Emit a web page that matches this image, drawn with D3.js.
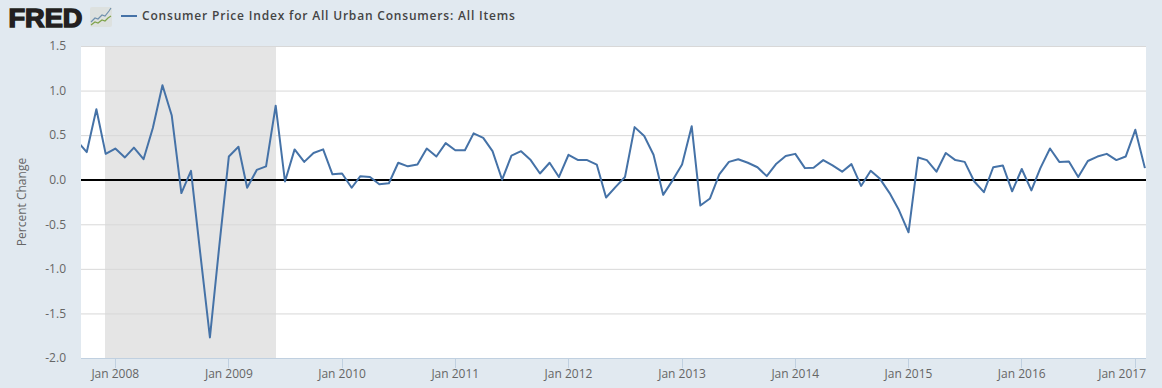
<!DOCTYPE html>
<html><head><meta charset="utf-8">
<script src="https://d3js.org/d3.v7.min.js"></script>
<style>html,body{margin:0;padding:0;background:#e1e9f0;overflow:hidden}svg{display:block}</style>
</head><body><svg id="c" width="1162" height="388"></svg>
<script>
const startMonth = "2007-09-01";
const seriesValues = [0.43,0.31,0.79,0.29,
 0.35,0.25,0.36,0.23,0.58,1.06,0.72,-0.15,0.10,-0.83,-1.77,-0.75,
 0.26,0.37,-0.09,0.11,0.15,0.83,-0.02,0.34,0.20,0.30,0.34,0.06,
 0.07,-0.09,0.04,0.03,-0.05,-0.04,0.19,0.15,0.17,0.35,0.26,0.41,
 0.33,0.33,0.52,0.47,0.32,0.00,0.27,0.32,0.22,0.07,0.19,0.03,
 0.28,0.22,0.22,0.17,-0.20,-0.08,0.03,0.59,0.49,0.28,-0.17,-0.01,
 0.17,0.60,-0.29,-0.21,0.06,0.20,0.23,0.19,0.14,0.04,0.18,0.265,
 0.29,0.13,0.135,0.22,0.16,0.09,0.175,-0.07,0.10,0.01,-0.15,-0.34,
 -0.59,0.25,0.22,0.09,0.30,0.22,0.20,-0.02,-0.14,0.14,0.16,-0.13,
 0.12,-0.12,0.13,0.35,0.20,0.205,0.03,0.21,0.26,0.29,0.22,0.26,
 0.56,0.13];
const yTicks = [-2,-1.5,-1,-0.5,0,0.5,1,1.5];
const xTickYears = [2008,2009,2010,2011,2012,2013,2014,2015,2016,2017];
const recession = ["2007-12-01","2009-06-01"];
const seriesName = "Consumer Price Index for All Urban Consumers: All Items";
const yTitle = "Percent Change";
const logoText = "FRED";

const L=81,R=1146,T=46,B=358;
const svg=d3.select("#c");
const FONT="'Open Sans',sans-serif";
const base=d3.scaleUtc().domain([new Date(Date.UTC(2008,0,1)),new Date(Date.UTC(2017,0,1))]).range([115.3,1135.3]);
const x=d3.scaleUtc().domain([base.invert(L),base.invert(R)]).range([L,R]);
const y=d3.scaleLinear().domain([-2,1.5]).range([B,T]);
const start=new Date(startMonth+"T00:00:00Z");
const data=seriesValues.map((v,i)=>({d:d3.utcMonth.offset(start,i),v}));

svg.append("rect").attr("width",1162).attr("height",388).attr("fill","#e1e9f0");
svg.append("rect").attr("x",L).attr("y",T).attr("width",R-L).attr("height",B-T).attr("fill","#fff");
svg.append("defs").append("clipPath").attr("id","clip").append("rect").attr("x",L).attr("y",T-5).attr("width",R-L).attr("height",B-T+10);

// recession band
const rx0=Math.floor(x(new Date(recession[0]+"T00:00:00Z"))), rx1=Math.ceil(x(new Date(recession[1]+"T00:00:00Z")));
svg.append("rect").attr("x",rx0).attr("y",T).attr("width",rx1-rx0).attr("height",B-T).attr("fill","#e5e5e5");

// y grid + labels
const gy=svg.append("g").attr("transform",`translate(${L},0)`)
  .call(d3.axisLeft(y).tickValues(yTicks).tickSize(-(R-L)).tickPadding(15).tickFormat(d3.format(".1f")));
gy.select(".domain").remove();
gy.selectAll(".tick line").attr("stroke","#d8d8d8").attr("stroke-width",1);
gy.selectAll(".tick text").attr("fill","#666").style("font-family",FONT).style("font-size","12px").text(d=>d3.format(".1f")(d).replace("−","-"));
gy.selectAll(".tick").filter(d=>d===-2).select("line").remove();

// x axis
const gx=svg.append("g").attr("transform",`translate(0,${B})`)
  .call(d3.axisBottom(x).offset(0).tickValues(xTickYears.map(yr=>new Date(Date.UTC(yr,0,1)))).tickSize(10).tickPadding(1).tickFormat(d3.utcFormat("%b %Y")));
gx.select(".domain").attr("stroke","#c0d0e0").attr("d",`M${L},0.5H${R}`);
gx.selectAll(".tick line").attr("stroke","#c0d0e0").style("shape-rendering","crispEdges");
gx.selectAll(".tick text").attr("fill","#666").style("font-family",FONT).style("font-size","12px");
// last label is kept inside the plot's right edge
gx.selectAll(".tick").filter(d=>d.getUTCFullYear()===xTickYears[xTickYears.length-1]).select("text")
  .attr("text-anchor","end").attr("x",R-x(new Date(Date.UTC(xTickYears[xTickYears.length-1],0,1))));

// zero line
svg.append("line").attr("x1",L).attr("x2",R).attr("y1",180).attr("y2",180).attr("stroke","#000").attr("stroke-width",2);

// series
svg.append("path").datum(data).attr("clip-path","url(#clip)").attr("fill","none")
  .attr("stroke","#4572a7").attr("stroke-width",2).attr("stroke-linejoin","round")
  .attr("d",d3.line().x(d=>x(d.d)).y(d=>y(d.v)));

// y title
svg.append("text").attr("transform","translate(26,202) rotate(-90)").attr("text-anchor","middle")
  .attr("fill","#666").style("font-family",FONT).style("font-size","12px").text(yTitle);

// header
svg.append("text").attr("x",8.5).attr("y",26.5).attr("fill","#231f20")
  .style("font-family","'Liberation Sans',sans-serif").style("font-weight","700").style("font-size","26px")
  .attr("textLength",74).attr("lengthAdjust","spacingAndGlyphs").attr("stroke","#231f20").attr("stroke-width",1.4).text(logoText);
const icon=svg.append("g");
icon.append("rect").attr("x",90).attr("y",7).attr("width",22).attr("height",20).attr("rx",2).attr("fill","#dde1df");
icon.append("polyline").attr("points","91,22 95,18 98,19 102,15 105,16 109,11 111,8").attr("fill","none").attr("stroke","#6f90ad").attr("stroke-width",1.2);
icon.append("polyline").attr("points","91,25 95,22 98,23 102,20 105,21 108,18 111,16").attr("fill","none").attr("stroke","#7fa34a").attr("stroke-width",1.2);
svg.append("line").attr("x1",121).attr("x2",137).attr("y1",16).attr("y2",16).attr("stroke","#4572a7").attr("stroke-width",2);
svg.append("text").attr("x",142).attr("y",20).attr("fill","#444")
  .style("font-family",FONT).style("font-weight","600").style("font-size","12px").style("letter-spacing","0.81px").text(seriesName);
</script></body></html>
